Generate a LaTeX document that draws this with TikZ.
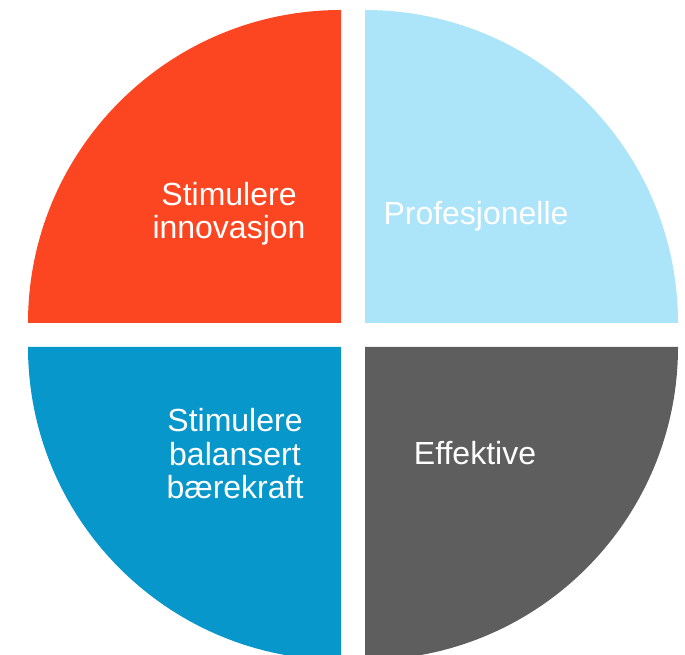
\documentclass[tikz,border=0pt]{standalone}
\usepackage{fontspec}
\setmainfont{Liberation Sans}
\definecolor{innored}{RGB}{252,70,34}
\definecolor{proflight}{RGB}{172,229,249}
\definecolor{balblue}{RGB}{8,151,202}
\definecolor{effgray}{RGB}{94,94,94}

\begin{document}
\begin{tikzpicture}[x=1pt,y=1pt]
\tikzstyle{every node}=[text=white,align=center,font=\fontsize{32}{33.5}\selectfont];
\useasboundingbox (0,0) rectangle (685,654);
\clip (0,0) rectangle (685,654);
% four quarters, gap in between
\fill [innored] (341,331) -- ++(-313,0) arc (180:90:313) -- cycle;
\fill [proflight] (365,331) -- ++(313,0) arc (0:90:313) -- cycle;
\fill [balblue] (341,307) -- ++(-313,0) arc (180:270:313) -- cycle;
\fill [effgray] (365,307) -- ++(313,0) arc (0:-90:313) -- cycle;
\node (q1) at (229,440.5) {Stimulere\\innovasjon};
\node (q2) at (476,437.5) {Profesjonelle};
\node (q3) at (235,200) {Stimulere\\balansert\\bærekraft};
\node (q4) at (475,200.5) {Effektive};
\end{tikzpicture}
\end{document}
